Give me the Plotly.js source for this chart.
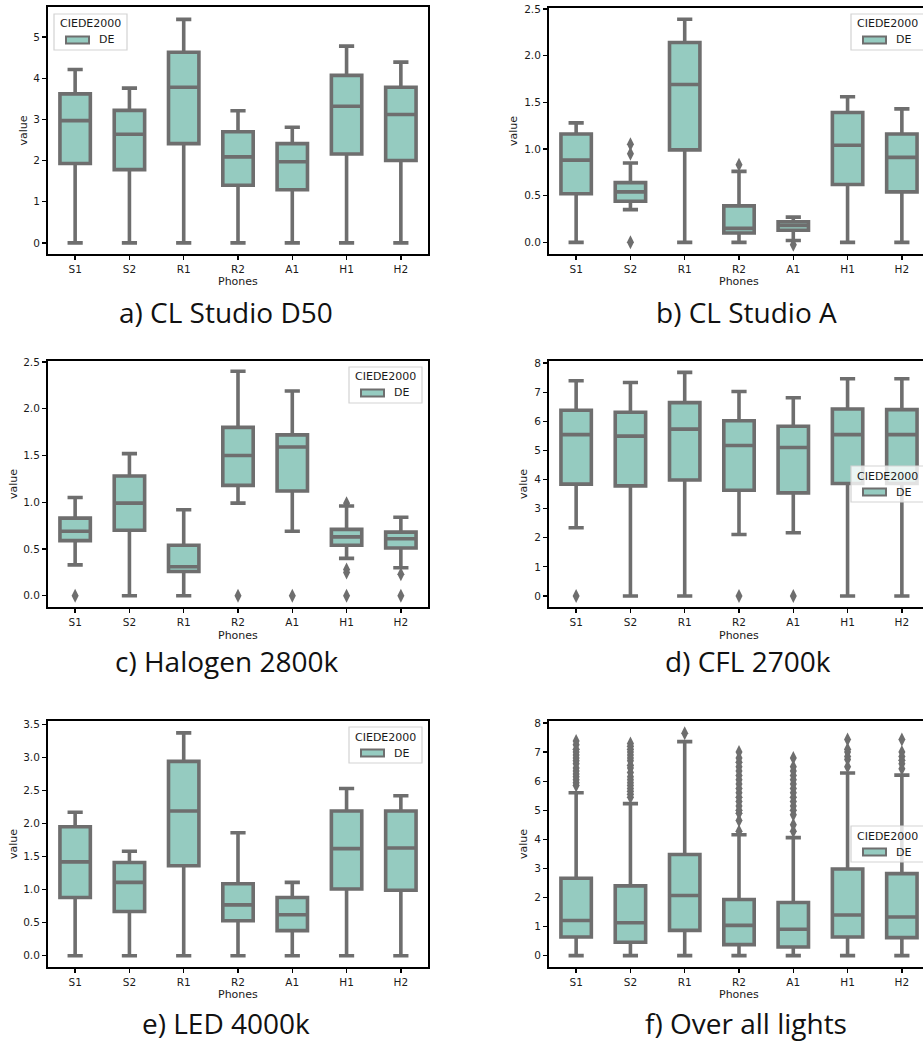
<!DOCTYPE html>
<html>
<head>
<meta charset="utf-8">
<script src="https://cdn.plot.ly/plotly-3.0.1.min.js"></script>
<style>
html,body{margin:0;padding:0;overflow:hidden;background:#fff;}
#chart{width:935px;height:1042px;}
</style>
</head>
<body>
<div id="chart"></div>
<script>
// ---------- DATA ----------
const phones = ["S1","S2","R1","R2","A1","H1","H2"];
const panelTitles = ["a) CL Studio D50","b) CL Studio A","c) Halogen 2800k","d) CFL 2700k","e) LED 4000k","f) Over all lights"];
const legendTitle = "CIEDE2000";
const seriesName = "DE";

// a) CL Studio D50
const d50_lo  = [0,0,0,0,0,0,0];
const d50_q1  = [1.93,1.78,2.41,1.40,1.29,2.16,2.00];
const d50_med = [2.97,2.64,3.78,2.09,1.97,3.32,3.12];
const d50_q3  = [3.62,3.22,4.63,2.70,2.41,4.07,3.78];
const d50_hi  = [4.21,3.76,5.43,3.21,2.81,4.78,4.39];
const d50_outX = [];
const d50_outY = [];

// b) CL Studio A
const stA_lo  = [0,0.35,0,0,0.02,0,0];
const stA_q1  = [0.52,0.44,0.99,0.10,0.13,0.62,0.54];
const stA_med = [0.88,0.54,1.69,0.15,0.18,1.04,0.91];
const stA_q3  = [1.16,0.64,2.14,0.39,0.22,1.39,1.16];
const stA_hi  = [1.28,0.85,2.39,0.76,0.27,1.56,1.43];
const stA_outX = ["S2","S2","S2","R2","A1"];
const stA_outY = [1.05,0.95,0.0,0.83,-0.025];

// c) Halogen 2800k
const hal_lo  = [0.33,0,0,0.99,0.69,0.40,0.30];
const hal_q1  = [0.59,0.70,0.26,1.18,1.12,0.54,0.51];
const hal_med = [0.69,0.99,0.31,1.50,1.59,0.63,0.61];
const hal_q3  = [0.83,1.28,0.54,1.80,1.72,0.71,0.68];
const hal_hi  = [1.05,1.52,0.92,2.40,2.19,0.96,0.84];
const hal_outX = ["S1","R2","A1","H1","H1","H1","H1","H2","H2"];
const hal_outY = [0,0,0,0.99,0.28,0.25,0,0.23,0];

// d) CFL 2700k
const cfl_lo  = [2.34,0,0,2.11,2.17,0,0];
const cfl_q1  = [3.84,3.78,3.98,3.63,3.54,3.86,3.86];
const cfl_med = [5.54,5.49,5.73,5.17,5.10,5.54,5.54];
const cfl_q3  = [6.38,6.31,6.64,6.02,5.83,6.42,6.40];
const cfl_hi  = [7.39,7.33,7.68,7.02,6.81,7.46,7.46];
const cfl_outX = ["S1","R2","A1"];
const cfl_outY = [0,0,0];

// e) LED 4000k
const led_lo  = [0,0,0,0,0,0,0];
const led_q1  = [0.88,0.67,1.36,0.53,0.38,1.01,0.99];
const led_med = [1.42,1.11,2.19,0.77,0.62,1.62,1.63];
const led_q3  = [1.95,1.41,2.94,1.09,0.88,2.19,2.19];
const led_hi  = [2.17,1.58,3.37,1.86,1.11,2.53,2.42];
const led_outX = [];
const led_outY = [];

// f) Over all lights
const all_lo  = [0,0,0,0,0,0,0];
const all_q1  = [0.64,0.46,0.87,0.38,0.30,0.64,0.62];
const all_med = [1.21,1.13,2.07,1.04,0.91,1.40,1.33];
const all_q3  = [2.66,2.40,3.48,1.93,1.83,2.98,2.82];
const all_hi  = [5.60,5.23,7.36,4.16,4.06,6.28,6.21];
const all_out_S1 = [5.85,5.95,6.05,6.15,6.25,6.35,6.45,6.6,6.7,6.8,6.9,7.0,7.1,7.25,7.38];
const all_out_S2 = [5.45,5.55,5.65,5.75,5.85,5.95,6.05,6.15,6.3,6.45,6.55,6.7,6.8,6.9,7.0,7.1,7.2,7.3];
const all_out_R1 = [7.65];
const all_out_R2 = [4.28,4.65,4.9,5.0,5.15,5.3,5.45,5.6,5.75,5.9,6.05,6.2,6.35,6.5,6.65,6.8,7.0];
const all_out_A1 = [4.28,4.5,4.85,5.0,5.15,5.3,5.45,5.6,5.75,5.9,6.05,6.2,6.35,6.5,6.8];
const all_out_H1 = [6.5,6.75,6.85,7.0,7.1,7.43];
const all_out_H2 = [6.43,6.6,6.72,6.85,7.0,7.43];

// ---------- STYLE / LAYOUT ----------
const W = 935, H = 1042;
const fill = "#95cbc0", edge = "#6e6e6e", txt = "#1a1a1a";
const tickFont = {family:"DejaVu Sans", size:10.5, color:txt};
const labFont = {family:"DejaVu Sans", size:11, color:txt};
const px = x => x / W;
const py = y => 1 - y / H;

const panels = [
  {lo:d50_lo,q1:d50_q1,med:d50_med,q3:d50_q3,hi:d50_hi,ox:d50_outX,oy:d50_outY, range:[-0.27,5.73], dtick:1, fmt:"d"},
  {lo:stA_lo,q1:stA_q1,med:stA_med,q3:stA_q3,hi:stA_hi,ox:stA_outX,oy:stA_outY, range:[-0.125,2.51], dtick:0.5, fmt:".1f"},
  {lo:hal_lo,q1:hal_q1,med:hal_med,q3:hal_q3,hi:hal_hi,ox:hal_outX,oy:hal_outY, range:[-0.12,2.51], dtick:0.5, fmt:".1f"},
  {lo:cfl_lo,q1:cfl_q1,med:cfl_med,q3:cfl_q3,hi:cfl_hi,ox:cfl_outX,oy:cfl_outY, range:[-0.38,8.07], dtick:1, fmt:"d"},
  {lo:led_lo,q1:led_q1,med:led_med,q3:led_q3,hi:led_hi,ox:led_outX,oy:led_outY, range:[-0.17,3.55], dtick:0.5, fmt:".1f"},
  {lo:all_lo,q1:all_q1,med:all_med,q3:all_q3,hi:all_hi,
   ox:[].concat(all_out_S1.map(()=>"S1"),all_out_S2.map(()=>"S2"),all_out_R1.map(()=>"R1"),all_out_R2.map(()=>"R2"),all_out_A1.map(()=>"A1"),all_out_H1.map(()=>"H1"),all_out_H2.map(()=>"H2")),
   oy:[].concat(all_out_S1,all_out_S2,all_out_R1,all_out_R2,all_out_A1,all_out_H1,all_out_H2),
   range:[-0.39,8.07], dtick:1, fmt:"d"}
];

// pixel geometry of plot areas [left,right,top,bottom]
const geo = [
  [48,428,7,254],[549,929,8,254],
  [48,428,361,607],[549,929,361,607],
  [48,428,721,967],[549,929,721,967]
];
// legend boxes: top-left corner in px
const legPos = [[54,14],[851,14],[349,367],[851,466],[349,727],[851,826]];
const captionPos = [[226,312],[746,312],[226,661],[748,661],[226,1023],[746,1023]];
const phonesY = [282,282,635,635,994,994];
const valueOffset = [25,36,35,26,35,26];

const traces = [];
const layout = {
  width:W, height:H, margin:{l:0,r:0,t:0,b:0},
  paper_bgcolor:"#fff", plot_bgcolor:"#fff",
  boxgap:0.2, showlegend:false, annotations:[], shapes:[]
};

panels.forEach((p,i)=>{
  const n = i===0 ? "" : String(i+1);
  const g = geo[i];
  traces.push({
    type:"box", name:seriesName, x:phones,
    q1:p.q1, median:p.med, q3:p.q3, lowerfence:p.lo, upperfence:p.hi,
    boxpoints:false, fillcolor:fill, line:{color:edge, width:3.6},
    whiskerwidth:0.5, xaxis:"x"+n, yaxis:"y"+n, hoverinfo:"skip"
  });
  if (p.oy.length){
    traces.push({
      type:"scatter", mode:"markers", x:p.ox, y:p.oy,
      marker:{symbol:"diamond-tall", size:10, color:edge, line:{width:0}},
      xaxis:"x"+n, yaxis:"y"+n, hoverinfo:"skip"
    });
  }
  layout["xaxis"+n] = {
    domain:[px(g[0]), px(g[1])], anchor:"y"+n,
    type:"category", categoryorder:"array", categoryarray:phones,
    range:[-0.5,6.5], showline:true, linecolor:"#000", linewidth:2, mirror:true,
    ticks:"outside", ticklen:4, tickwidth:1.3, tickcolor:"#000",
    tickfont:tickFont, showgrid:false, zeroline:false, fixedrange:true
  };
  layout["yaxis"+n] = {
    domain:[py(g[3]), py(g[2])], anchor:"x"+n,
    range:p.range, dtick:p.dtick, tick0:0, tickformat:p.fmt,
    showline:true, linecolor:"#000", linewidth:2, mirror:true,
    ticks:"outside", ticklen:4, tickwidth:1.3, tickcolor:"#000",
    tickfont:tickFont, showgrid:false, zeroline:false, fixedrange:true
  };
  // legend drawn with shapes + text
  const [L,T] = legPos[i];
  layout.shapes.push({type:"rect", xref:"paper", yref:"paper", layer:"above",
    x0:px(L), x1:px(L+73), y0:py(T+36), y1:py(T),
    fillcolor:"rgba(255,255,255,0.8)", line:{color:"#d3d3d3", width:1.2}});
  layout.shapes.push({type:"rect", xref:"paper", yref:"paper", layer:"above",
    x0:px(L+12), x1:px(L+35), y0:py(T+29.5), y1:py(T+22.5),
    fillcolor:fill, line:{color:edge, width:2}});
  layout.annotations.push({text:legendTitle, xref:"paper", yref:"paper",
    x:px(L+36.5), y:py(T+10), showarrow:false, xanchor:"center", yanchor:"middle",
    font:labFont});
  layout.annotations.push({text:seriesName, xref:"paper", yref:"paper",
    x:px(L+43), y:py(T+26), showarrow:false, xanchor:"left", yanchor:"middle",
    font:labFont});
  // axis titles
  layout.annotations.push({
    text:"Phones", xref:"paper", yref:"paper", x:px((g[0]+g[1])/2), y:py(phonesY[i]),
    showarrow:false, xanchor:"center", yanchor:"middle", font:labFont
  });
  layout.annotations.push({
    text:"value", xref:"paper", yref:"paper", x:px(g[0]-valueOffset[i]), y:py((g[2]+g[3])/2),
    showarrow:false, textangle:-90, xanchor:"center", yanchor:"middle", font:labFont
  });
  const cp = captionPos[i];
  layout.annotations.push({
    text:panelTitles[i], xref:"paper", yref:"paper", x:px(cp[0]), y:py(cp[1]),
    showarrow:false, xanchor:"center", yanchor:"middle",
    font:{family:"Open Sans", size:28, color:"#111"}
  });
});

Plotly.newPlot("chart", traces, layout, {displayModeBar:false, staticPlot:true});
</script>
</body>
</html>
